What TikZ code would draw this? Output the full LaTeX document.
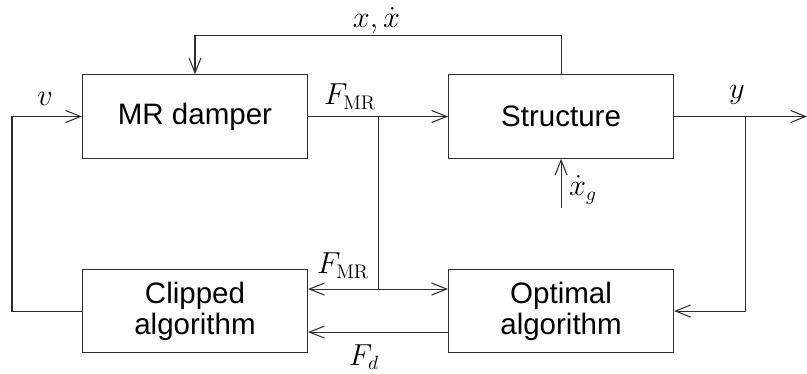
\documentclass[tikz,border=0pt]{standalone}
\usepackage{amsmath}
\usepackage{fontspec}
\setsansfont{Liberation Sans}
\usetikzlibrary{arrows.meta,positioning,calc}
\definecolor{LineColor}{RGB}{45,45,45}

\begin{document}
\begin{tikzpicture}[
    block/.style={draw=LineColor, line width=0.6pt, minimum width=4.5cm, minimum height=1.67cm, align=center, font=\sffamily\fontsize{16.8}{17.5}\selectfont},
    wire/.style={draw=LineColor, line width=0.6pt},
    sig/.style={wire, -{Straight Barb[length=3mm,width=2.4mm]}},
    lbl/.style={font=\fontsize{16}{18}\selectfont, inner sep=0pt}]
        \useasboundingbox (0,0) rectangle (16.14,-7.48);
        % blocks
        \node[block] (damper) at (3.90,-2.33) {MR damper};
        \node[block, right=2.8cm of damper] (structure) {Structure};
        \node[block, below=2.2cm of damper] (clipped) {Clipped\\algorithm};
        \node[block, below=2.2cm of structure] (optimal) {Optimal\\algorithm};
        % helper points
        \coordinate (branch) at ($(damper.east)!0.5!(structure.west)$);
        \coordinate (tap) at ($(structure.east)+(1.42,0)$);
        \coordinate (out) at ($(structure.east)+(2.66,0)$);
        \coordinate (ground) at ($(structure.south)+(0,-0.98)$);
        \coordinate (split) at ($(branch |- clipped.center)+(0,0.44)$);
        % signals
        \draw[sig] (structure.north) -- ++(0,0.78) -| (damper.north);
        \draw[sig] (damper.east) -- (structure.west);
        \draw[sig] (structure.east) -- (out);
        \draw[sig] (ground) -- (structure.south);
        \draw[sig] (clipped.west) -- ++(-1.40,0) |- (damper.west);
        \draw[sig] (tap) |- (optimal.east);
        \draw[wire] (branch) -- (split);
        \draw[sig] (split) -- (split -| clipped.east);
        \draw[sig] (split) -- (split -| optimal.west);
        \draw[sig] ($(optimal.west)+(0,-0.42)$) -- ($(clipped.east)+(0,-0.42)$);
        % labels
        \node[lbl] (xlab) at (7.53,-0.40) {$x,\dot{x}$};
        \node[lbl] (vlab) at (0.90,-1.97) {$v$};
        \node[lbl] (fmrtop) at (7.00,-1.94) {$F_{\mathrm{MR}}$};
        \node[lbl] (ylab) at (14.74,-1.90) {$y$};
        \node[lbl] (xglab) at (11.66,-3.80) {$\dot{x}_g$};
        \node[lbl] (fmrlow) at (6.86,-5.32) {$F_{\mathrm{MR}}$};
        \node[lbl] (fdlab) at (7.28,-7.14) {$F_d$};
\end{tikzpicture}
\end{document}
